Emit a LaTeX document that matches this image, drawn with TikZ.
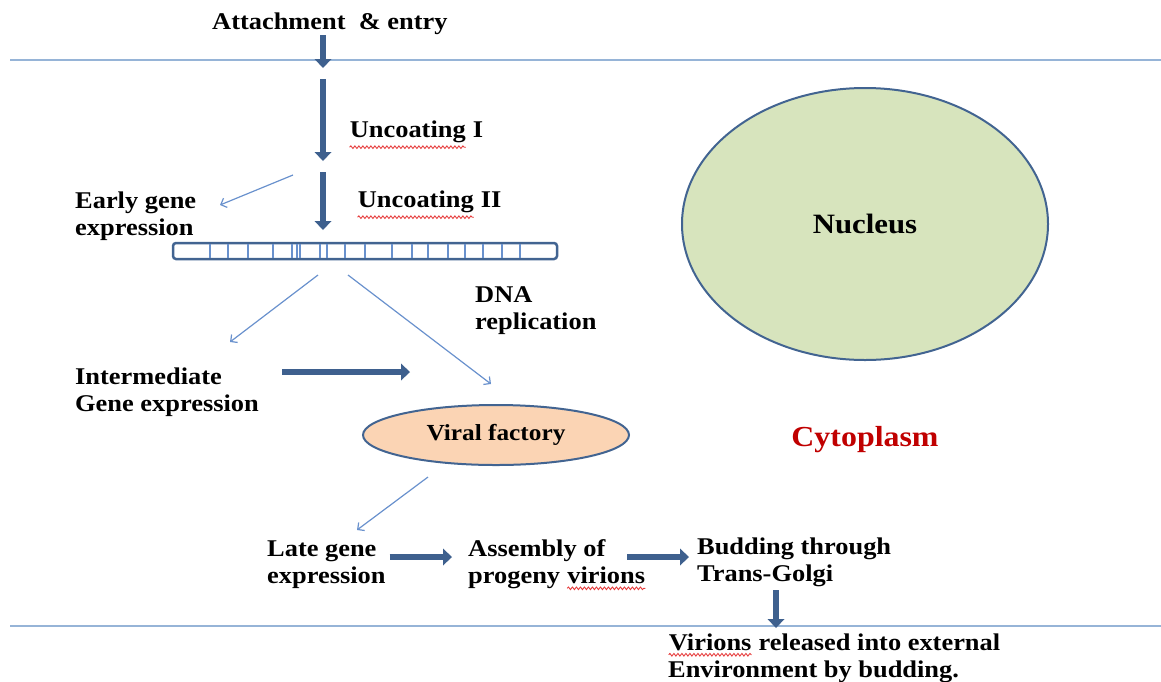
\documentclass[tikz,border=0pt]{standalone}
\usepackage{fontspec}
\setmainfont{Liberation Serif}[FakeStretch=1.1]
\usetikzlibrary{shapes.geometric, arrows.meta, positioning, calc, decorations.pathmorphing}

\definecolor{lineblue}{RGB}{150,180,215}
\definecolor{boldblue}{RGB}{62,96,142}
\definecolor{thinblue}{RGB}{105,145,205}
\definecolor{rimblue}{RGB}{66,100,145}
\definecolor{nucgreen}{RGB}{215,228,189}
\definecolor{factorypeach}{RGB}{251,212,180}
\definecolor{cytored}{RGB}{192,0,0}
\definecolor{spellred}{RGB}{230,60,60}

\newcommand{\spellmark}[1]{\tikz[baseline=(w.base)]{\node (w) [inner sep=0pt, anchor=base] {#1};
    \draw [spellred, line width=0.9pt, decorate, decoration={snake, amplitude=1.3pt, segment length=4pt}]
        ([yshift=-4pt]w.south west) -- ([yshift=-4pt]w.south east);}}

\begin{document}
\begin{tikzpicture}[
        x=1pt, y=-1pt,
        font=\bfseries\fontsize{24}{27}\selectfont,
        lbl/.style={align=left, anchor=west, inner sep=0pt},
        membrane/.style={draw=lineblue, line width=2pt},
        bigarrow/.style={draw=boldblue, line width=6.5pt, -{Triangle[length=9pt, width=17pt, line width=0pt]}},
        thinarrow/.style={draw=thinblue, line width=1.2pt, -{Straight Barb[length=5pt, width=10pt]}},
        organelle/.style={ellipse, draw=rimblue, line width=2pt, align=center, inner sep=0pt},
        nucleus/.style={organelle, fill=nucgreen, minimum width=366, minimum height=272, font=\bfseries\fontsize{28}{30}\selectfont},
        factory/.style={organelle, fill=factorypeach, minimum width=266, minimum height=60, font=\bfseries\fontsize{23}{26}\selectfont},
        cytolbl/.style={text=cytored, inner sep=0pt, font=\bfseries\fontsize{29}{31}\selectfont},
        dnabar/.style={rectangle, rounded corners=3pt, draw=rimblue, line width=2.5pt, minimum width=384, minimum height=16, inner sep=0pt},
        dnatick/.style={draw=thinblue, line width=1.3pt}
    ]
        \useasboundingbox (0,0) rectangle (1161,681);

        \draw [membrane] (10,60) -- (1161,60);
        \draw [membrane] (10,626) -- (1161,626);

        \node (attach) [lbl] at (212,24) {Attachment~ \& entry};
        \node (unc1) [lbl] at (349,135) {\spellmark{Uncoating} I};
        \node (unc2) [lbl] at (357,205) {\spellmark{Uncoating} II};
        \node (early) [lbl] at (75,216) {Early gene\\expression};
        \node (dna) [dnabar] at (365,251) {};
        \foreach \tx in {210,228,248,273,292,297,300,320,327,345,365,392,412,428,448,465,483,502,520}
            \draw [dnatick] (\tx,244) -- (\tx,258);
        \node (dnarep) [lbl] at (475,311) {DNA\\replication};
        \node (inter) [lbl] at (75,392) {Intermediate\\Gene expression};
        \node (fact) [factory] at (496,435) {Viral factory};
        \node (nuc) [nucleus] at (865,224) {Nucleus};
        \node (cyto) [cytolbl, below=65pt of nuc] {Cytoplasm};
        \node (late) [lbl] at (267,565) {Late gene\\expression};
        \node (asm) [lbl] at (468,565) {Assembly of\\progeny \spellmark{virions}};
        \node (bud) [lbl] at (697,562) {Budding through\\Trans-Golgi};
        \node (rel) [lbl] at (668,658) {\spellmark{Virions} released into external\\Environment by budding.};

        \coordinate (entryend) at (323,68);
        \coordinate (unc1top) at (323,79);
        \coordinate (unc1end) at (323,161);
        \coordinate (unc2top) at (323,172);
        \coordinate (unc2end) at (323,230);
        \coordinate (earlytop) at (293,175);
        \coordinate (earlyend) at (220,205);
        \coordinate (dnaleft) at (318,275);
        \coordinate (dnaright) at (348,275);
        \coordinate (interend) at (230,342);
        \coordinate (factend) at (491,384);
        \coordinate (intertop) at (282,372);
        \coordinate (intertip) at (410,372);
        \coordinate (facttail) at (428,477);
        \coordinate (lateend) at (357,530);
        \coordinate (asmtail) at (627,557);
        \coordinate (asmtip) at (689,557);
        \coordinate (budtail) at (776,590);
        \coordinate (budtip) at (776,628);

        \draw [bigarrow] (attach.south -| entryend) -- (entryend);
        \draw [bigarrow] (unc1top) -- (unc1end);
        \draw [bigarrow] (unc2top) -- (unc2end);
        \draw [thinarrow] (earlytop) -- (earlyend);
        \draw [thinarrow] (dnaleft) -- (interend);
        \draw [thinarrow] (dnaright) -- (factend);
        \draw [bigarrow] (intertop) -- (intertip);
        \draw [thinarrow] (facttail) -- (lateend);
        \draw [bigarrow] ([xshift=4pt, yshift=8pt]late.east) -- ([xshift=-16pt, yshift=8pt]asm.west);
        \draw [bigarrow] (asmtail) -- (asmtip);
        \draw [bigarrow] (budtail) -- (budtip);
    \end{tikzpicture}
\end{document}
